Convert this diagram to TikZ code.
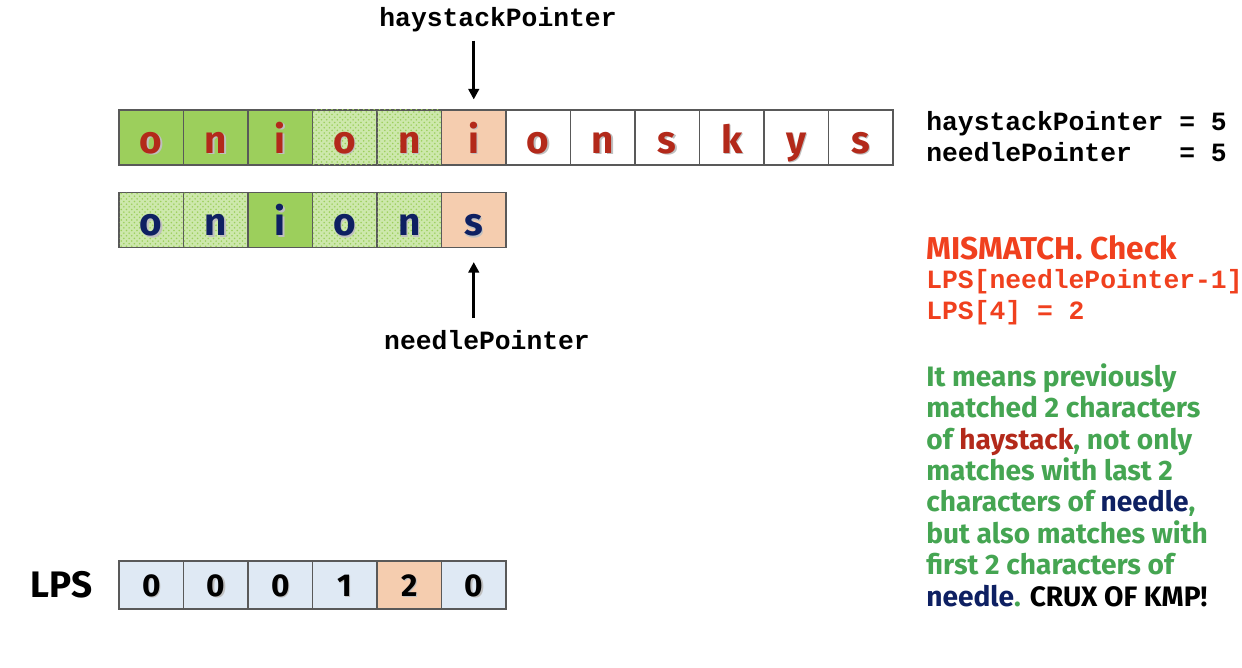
\documentclass[tikz,border=0pt]{standalone}
\usepackage{fontspec}
\setmainfont{Fira Sans}
\setmonofont{Liberation Mono}
\usepackage{tikz}
\usetikzlibrary{positioning,patterns,arrows.meta}

\definecolor{cellgreen}{HTML}{9CCF5C}
\definecolor{dotgreen}{HTML}{CDE8AC}
\definecolor{peach}{HTML}{F5CDAF}
\definecolor{lpsblue}{HTML}{DFE9F4}
\definecolor{hayred}{HTML}{B3291A}
\definecolor{needleblue}{HTML}{0E2062}
\definecolor{warnred}{HTML}{F0401E}
\definecolor{notegreen}{HTML}{45A552}

\begin{document}
\begin{tikzpicture}[x=0.02cm, y=-0.02cm,
      cell/.style={draw=black!65, line width=0.6pt, minimum width=1.29cm, minimum height=1.1cm, inner sep=0pt},
      grn/.style={fill=cellgreen},
      spk/.style={fill=dotgreen, postaction={pattern=crosshatch dots, pattern color=cellgreen}},
      pch/.style={fill=peach},
      wht/.style={fill=white},
      lps/.style={fill=lpsblue},
      letter/.style={font=\fontsize{22}{22}\selectfont\bfseries, text height=18pt, text depth=0pt, inner sep=0pt},
      digit/.style={font=\fontsize{18}{18}\selectfont\bfseries, text height=12.6pt, text depth=0pt, inner sep=0pt},
      ptr/.style={-{Triangle[length=6pt,width=6pt]}, line width=1.7pt},
      code/.style={font=\fontsize{15}{17.8}\selectfont\ttfamily\bfseries, inner sep=0pt, align=left},
      note/.style={font=\fontsize{16}{17.9}\selectfont\bfseries, inner sep=0pt, align=left}
      ]
      \useasboundingbox (0,0) rectangle (1242,668);
      \foreach \ch/\look [count=\i] in {o/grn, n/grn, i/grn, o/spk, n/spk, i/pch, o/wht, n/wht, s/wht, k/wht, y/wht, s/wht} {
        \node[cell, \look] (h\i) at ({119+64.5*(\i-0.5)},137.5) {};
        \node[letter, text=black!25] at ([shift={(1.5,1.5)}]h\i) {\ch};
        \node[letter, text=hayred] at (h\i) {\ch};
      }
      \foreach \ch/\look [count=\i] in {o/spk, n/spk, i/grn, o/spk, n/spk, s/pch} {
        \node[cell, \look] (n\i) at ({119+64.5*(\i-0.5)},220) {};
        \node[letter, text=black!25] at ([shift={(1.5,1.5)}]n\i) {\ch};
        \node[letter, text=needleblue] at (n\i) {\ch};
      }
      \foreach \v/\look [count=\i] in {0/lps, 0/lps, 0/lps, 1/lps, 2/pch, 0/lps} {
        \node[cell, \look, minimum height=0.96cm] (l\i) at ({119+64.5*(\i-0.5)},585) {};
        \node[digit, text=black!25] at ([shift={(1.5,1.5)}]l\i) {\v};
        \node[digit] at (l\i) {\v};
      }
      \node[font=\fontsize{21}{21}\selectfont\bfseries, inner sep=0pt, left=0.52cm of l1] (lpstitle) {LPS};

      \node[code] (hptr) at (498,20) {haystackPointer};
      \node[code] (nptr) at (487,340) {needlePointer};
      \draw[ptr, shorten <=4.5pt, shorten >=5.7pt] (hptr.south -| h6) -- (h6.north);
      \draw[ptr, shorten <=6.8pt, shorten >=8pt] (nptr.north -| n6) -- (n6.south);

      \node[code, anchor=north west] (vals) at (926,111) {haystackPointer = 5\\needlePointer\ \ \ = 5};
      \node[note, font=\fontsize{18}{20}\selectfont\bfseries, text=warnred, anchor=north west] (mis) at (926,235) {MISMATCH. Check};
      \node[code, text=warnred, anchor=north west] (chk) at (926,269) {LPS[needlePointer-1]\\LPS[4] = 2};
      \node[note, text=notegreen, anchor=north west] (expl) at (926,363) {It means previously\\
        matched 2 characters\\
        of \textcolor{hayred}{haystack}, not only\\
        matches with last 2\\
        characters of \textcolor{needleblue}{needle},\\
        but also matches with\\
        first 2 characters of\\
        \textcolor{needleblue}{needle}. \textcolor{black}{CRUX OF KMP!}};
    \end{tikzpicture}
\end{document}
